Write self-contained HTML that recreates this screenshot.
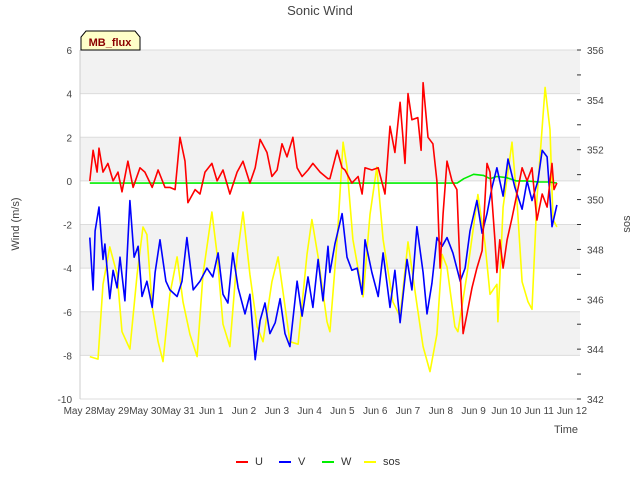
<!DOCTYPE html>
<html><head><meta charset="utf-8"><style>
body{margin:0;background:#fff;}
svg{display:block;font-family:"Liberation Sans","DejaVu Sans",sans-serif;}
</style></head><body>
<svg id="chart" width="640" height="480">
<text x="320" y="15" text-anchor="middle" font-size="13" fill="#444">Sonic Wind</text>
<g id="plot"></g>
<g id="axes"></g>
<g id="series"></g>
<text transform="translate(19,224) rotate(-90)" text-anchor="middle" font-size="11" fill="#444">Wind (m/s)</text>
<text transform="translate(630,224) rotate(-90)" text-anchor="middle" font-size="11" fill="#444">sos</text>
<text x="578" y="433" text-anchor="end" font-size="11" fill="#444">Time</text>
<g>
<path d="M81,50 L81,37 L86,31 L135,31 L140,37 L140,50 Z" fill="#ffffc8" stroke="#000" stroke-width="1"/>
<text x="110" y="46" text-anchor="middle" font-size="11" font-weight="bold" fill="#8b0000">MB_flux</text>
</g>
<g id="legend"></g>
</svg>
<script>
const uDays=[0.30,0.40,0.52,0.58,0.70,0.85,1.01,1.16,1.28,1.46,1.62,1.83,1.98,2.20,2.38,2.59,2.74,2.90,3.05,3.20,3.29,3.51,3.66,3.81,4.02,4.18,4.36,4.57,4.79,4.97,5.18,5.34,5.49,5.70,5.85,6.01,6.16,6.31,6.49,6.62,6.77,6.95,7.10,7.32,7.56,7.62,7.84,7.99,8.08,8.29,8.48,8.60,8.69,8.90,9.09,9.30,9.45,9.60,9.76,9.91,10.00,10.12,10.30,10.40,10.46,10.61,10.76,10.88,10.98,11.07,11.19,11.34,11.49,11.59,11.68,11.80,11.95,12.10,12.26,12.41,12.50,12.65,12.71,12.80,12.90,13.02,13.17,13.32,13.48,13.63,13.78,13.93,14.09,14.24,14.39,14.45,14.54];
const uVals=[0.0,1.4,0.4,1.5,0.4,0.8,0.0,0.4,-0.5,0.9,-0.3,0.6,0.4,-0.3,0.5,-0.3,-0.3,-0.4,2.0,0.9,-1.0,-0.4,-0.6,0.4,0.8,0.0,0.5,-0.6,0.4,0.9,-0.1,0.6,1.9,1.3,0.2,0.5,1.7,1.1,2.0,0.6,0.2,0.5,0.8,0.4,0.1,0.1,1.4,0.6,0.5,-0.1,0.2,-0.6,0.6,0.5,0.6,-0.6,2.5,1.3,3.6,0.8,4.0,2.8,2.9,1.4,4.5,2.0,1.7,0.0,-4.0,-1.5,0.9,0.0,-0.4,-4.2,-7.0,-6.1,-4.9,-4.0,-3.2,0.8,0.4,-2.7,-4.2,-2.7,-4.0,-2.7,-1.7,-0.6,0.6,0.0,0.6,-1.8,-0.6,-1.2,0.8,-0.4,-0.1];
const vDays=[0.30,0.40,0.46,0.58,0.70,0.76,0.91,1.01,1.13,1.22,1.37,1.52,1.65,1.77,1.89,2.04,2.20,2.29,2.44,2.62,2.74,2.96,3.11,3.26,3.45,3.66,3.87,4.05,4.21,4.36,4.51,4.66,4.82,5.03,5.18,5.34,5.49,5.64,5.79,5.95,6.10,6.25,6.40,6.62,6.77,6.95,7.10,7.26,7.41,7.56,7.62,7.77,7.99,8.14,8.29,8.45,8.60,8.69,8.90,9.09,9.24,9.45,9.60,9.76,9.97,10.12,10.27,10.46,10.58,10.73,10.88,11.04,11.19,11.37,11.59,11.74,11.89,12.10,12.26,12.41,12.56,12.71,12.90,13.05,13.26,13.48,13.63,13.78,13.96,14.09,14.24,14.39,14.54];
const vVals=[-2.6,-5.0,-2.3,-1.2,-3.6,-2.9,-5.4,-4.1,-4.9,-3.5,-5.5,-0.9,-3.5,-3.0,-5.3,-4.6,-5.8,-4.2,-2.7,-4.6,-5.0,-5.3,-4.6,-2.6,-5.0,-4.6,-4.0,-4.4,-3.3,-5.2,-5.6,-3.3,-4.9,-6.1,-5.2,-8.2,-6.4,-5.6,-7.0,-6.5,-5.4,-7.0,-7.6,-4.6,-6.2,-4.4,-5.8,-3.6,-5.5,-3.0,-4.2,-2.9,-1.5,-3.5,-4.1,-4.0,-5.2,-2.7,-4.2,-5.3,-3.3,-5.8,-4.1,-6.5,-3.6,-5.0,-2.1,-4.2,-6.1,-4.7,-2.6,-3.0,-2.6,-3.3,-4.6,-4.0,-2.3,-0.9,-2.4,-1.5,-0.3,0.6,-0.7,1.0,-0.3,-1.3,0.0,-0.9,0.0,1.4,1.1,-2.1,-1.1];
const wDays=[0.30,2.0,4.0,6.0,8.0,10.0,11.5,11.7,12.0,12.3,12.5,12.7,13.0,13.3,13.6,14.0,14.3,14.54];
const wVals=[-0.1,-0.1,-0.1,-0.1,-0.1,-0.1,-0.1,0.1,0.3,0.25,0.1,0.2,0.15,0.0,0.0,-0.05,-0.05,-0.1];
const sDays=[0.30,0.55,0.70,0.91,1.13,1.28,1.52,1.74,1.92,2.04,2.20,2.38,2.53,2.74,2.96,3.14,3.35,3.57,3.75,4.02,4.18,4.36,4.57,4.79,4.97,5.18,5.40,5.58,5.85,6.04,6.19,6.40,6.65,6.92,7.07,7.26,7.53,7.62,7.84,8.02,8.14,8.32,8.63,8.84,9.05,9.24,9.54,9.76,10.00,10.27,10.46,10.67,10.88,11.04,11.19,11.43,11.52,11.80,12.13,12.35,12.50,12.71,12.74,12.90,13.17,13.32,13.48,13.66,13.78,13.93,14.18,14.33,14.42,14.54];
const sVals=[343.7,343.6,346.6,348.1,347.0,344.7,344.0,347.0,348.9,348.6,345.7,344.3,343.5,346.2,347.7,345.9,344.6,343.7,347.0,349.5,347.8,345.0,344.1,347.7,349.5,347.0,344.9,344.3,346.7,347.7,346.3,344.3,344.2,347.8,349.2,347.7,345.1,344.7,348.4,352.3,351.3,348.4,346.1,349.4,351.3,348.4,345.9,345.3,348.3,345.8,344.1,343.1,344.6,347.8,347.3,344.9,344.7,347.0,350.2,348.2,346.2,346.6,345.1,349.7,352.3,350.0,346.7,345.9,345.6,350.0,354.5,352.8,349.2,348.9];
const xTickLabels=["May 28","May 29","May 30","May 31","Jun 1","Jun 2","Jun 3","Jun 4","Jun 5","Jun 6","Jun 7","Jun 8","Jun 9","Jun 10","Jun 11","Jun 12"];
const yTicks=[6,4,2,0,-2,-4,-6,-8,-10];
const rTicks=[356,354,352,350,348,346,344,342];

const NS="http://www.w3.org/2000/svg";
const L=80,R=580,T=50,B=399;
const xS=d=>80+d*32.8;
const yS=v=>T+(6-v)*(B-T)/16;
const rS=v=>T+(356-v)*(B-T)/14;
function mk(tag,attrs,parent){const e=document.createElementNS(NS,tag);for(const k in attrs)e.setAttribute(k,attrs[k]);parent.appendChild(e);return e;}
const plot=document.getElementById('plot'),axes=document.getElementById('axes'),series=document.getElementById('series'),legend=document.getElementById('legend');
mk('rect',{x:L,y:T,width:R-L,height:B-T,fill:'#fff'},plot);
for(let v=6;v>-10;v-=4){const b=mk('rect',{x:L,y:yS(v),width:R-L,height:yS(v-2)-yS(v),fill:'#f2f2f2'},plot);

}
yTicks.forEach(v=>{const g=mk('line',{x1:L,x2:R,y1:yS(v),y2:yS(v),stroke:'#dcdcdc','stroke-width':1},plot);


const t=mk('text',{x:72,y:yS(v)+4,'text-anchor':'end','font-size':10,fill:'#444'},axes);t.textContent=v;

});
for(let v=356;v>=342;v--){const y=rS(v);mk('line',{x1:577,x2:581,y1:y,y2:y,stroke:'#333','stroke-width':1},axes);}
rTicks.forEach(v=>{const t=mk('text',{x:587,y:rS(v)+4,'font-size':10,fill:'#444'},axes);t.textContent=v;

});
mk('line',{x1:L,x2:L,y1:T,y2:B,stroke:'#ccc'},axes);
xTickLabels.forEach((s,i)=>{const t=mk('text',{x:xS(i),y:414,'text-anchor':'middle','font-size':10,fill:'#444'},axes);t.textContent=s;

});
function line(days,vals,sc,color,name){const d=days.map((t,i)=>(i?'L':'M')+xS(t).toFixed(1)+','+sc(vals[i]).toFixed(1)).join(' ');
const p=mk('path',{d:d,fill:'none',stroke:color,'stroke-width':1.6,'stroke-linejoin':'round'},series);

}
line(sDays,sVals,rS,'#ffff00','series-sos');
line(wDays,wVals,yS,'#00ee00','series-w');
line(vDays,vVals,yS,'#0000ff','series-v');
line(uDays,uVals,yS,'#ff0000','series-u');
const leg=[['U','#ff0000',236],['V','#0000ff',279],['W','#00ee00',322],['sos','#ffff00',364]];
leg.forEach(([n,c,x])=>{const g=mk('g',{},legend);


mk('line',{x1:x,x2:x+12,y1:462,y2:462,stroke:c,'stroke-width':2},g);
const t=mk('text',{x:x+19,y:465,'font-size':11,fill:'#333'},g);t.textContent=n;});
</script>
</body></html>
